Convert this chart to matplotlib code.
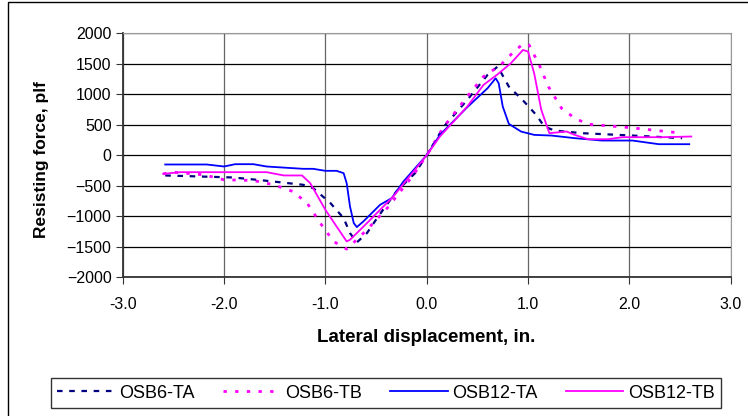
import matplotlib.pyplot as plt
from matplotlib.patches import Rectangle

plt.rcParams['font.family'] = ['Liberation Sans', 'DejaVu Sans']

# curves (displacement in., force plf)
ta6_x = [-2.58, -1.91, -1.61, -1.22, -1.12, -0.95, -0.82, -0.757, -0.69, -0.59, -0.49, -0.30, -0.115, 0.0,
         0.17, 0.40, 0.60, 0.70, 0.81, 0.96, 1.08, 1.16, 1.26, 1.53, 2.03, 2.52]
ta6_y = [-333, -366, -415, -486, -541, -787, -1033, -1279, -1432, -1279, -1033, -596, -295, 0,
         470, 907, 1317, 1454, 1126, 880, 661, 470, 404, 361, 322, 279]

tb6_x = [-2.6, -2.5, -2.2, -2.0, -1.71, -1.51, -1.32, -1.18, -1.05, -0.92, -0.79, -0.72, -0.59, -0.39, -0.13, 0.0,
         0.17, 0.40, 0.56, 0.73, 0.86, 0.95, 1.01, 1.11, 1.20, 1.33, 1.46, 1.59, 1.99, 2.52]
tb6_y = [-306, -279, -322, -404, -415, -486, -596, -787, -1115, -1415, -1541, -1432, -1224, -869, -322, 0,
         470, 962, 1290, 1481, 1699, 1825, 1809, 1481, 1126, 770, 607, 508, 454, 361]

ta12_x = [-2.58, -2.17, -2.0, -1.89, -1.71, -1.58, -1.22, -1.12, -1.0, -0.89, -0.82, -0.79, -0.757, -0.72, -0.69,
          -0.625, -0.46, -0.345, -0.23, -0.1, 0.0, 0.13, 0.40, 0.60, 0.68, 0.71, 0.75, 0.81, 0.93, 1.06, 1.23,
          1.46, 1.73, 2.03, 2.29, 2.59]
ta12_y = [-153, -153, -186, -148, -148, -186, -224, -224, -257, -257, -295, -459, -842, -1115, -1180,
          -1087, -814, -705, -432, -186, 0, 333, 787, 1098, 1262, 1180, 798, 514, 388, 333, 322,
          279, 240, 240, 180, 180]

tb12_x = [-2.6, -2.43, -1.58, -1.41, -1.23, -1.15, -1.0, -0.89, -0.79, -0.757, -0.69, -0.59, -0.46, -0.33, -0.13, 0.0,
          0.13, 0.40, 0.56, 0.70, 0.83, 0.95, 1.0, 1.06, 1.13, 1.21, 1.38, 1.46, 1.59, 1.79, 1.93, 2.32, 2.61]
tb12_y = [-306, -279, -279, -333, -333, -459, -896, -1169, -1415, -1388, -1279, -1115, -896, -678, -268, 0,
          306, 798, 1153, 1328, 1508, 1727, 1699, 1344, 743, 361, 388, 333, 262, 262, 295, 295, 306]

x_ticks = [-3.0, -2.0, -1.0, 0.0, 1.0, 2.0, 3.0]
y_ticks = [-2000, -1500, -1000, -500, 0, 500, 1000, 1500, 2000]

fig = plt.figure(figsize=(7.48, 4.16), dpi=100)
ax = fig.add_axes([0.164, 0.334, 0.813, 0.586])

ax.plot(ta6_x, ta6_y, color='#000080', lw=1.6, linestyle=(0, (2.5, 3)), label='OSB6-TA')
ax.plot(tb6_x, tb6_y, color='#FF00FF', lw=2.0, linestyle=(0, (1.2, 3)), label='OSB6-TB')
ax.plot(ta12_x, ta12_y, color='#0000FF', lw=1.3, label='OSB12-TA')
ax.plot(tb12_x, tb12_y, color='#FF00FF', lw=1.3, label='OSB12-TB')

ax.set_xlim(-3, 3)
ax.set_ylim(-2000, 2000)
ax.set_xticks(x_ticks)
ax.set_xticklabels(['%.1f' % v for v in x_ticks])
ax.set_yticks(y_ticks)
ax.tick_params(labelsize=11.5, direction='out', length=5, color='#333333')
ax.tick_params(axis='y', pad=3)
ax.tick_params(axis='x', pad=9)
ax.grid(axis='y', color='black', lw=0.9)
ax.grid(axis='x', color='#666666', lw=0.9)
ax.set_axisbelow(True)
for side in ['top', 'right']:
    ax.spines[side].set_color('#999999')
for side in ['left', 'bottom']:
    ax.spines[side].set_color('#333333')
    ax.spines[side].set_linewidth(1.3)

fig.text(426 / 748, 1 - 337 / 416, 'Lateral displacement, in.', fontsize=13.5, fontweight='bold',
         ha='center', va='center')
fig.text(42 / 748, 1 - 160 / 416, 'Resisting force, plf', fontsize=12.5, fontweight='bold',
         ha='center', va='center', rotation=90)

leg = fig.legend(loc='center', bbox_to_anchor=(51 / 748, 1 - 411 / 416, 670 / 748, 36 / 416),
                 mode='expand', ncol=4, fontsize=13, frameon=True, fancybox=False,
                 handlelength=3.2, handletextpad=0.25, borderpad=0.35, borderaxespad=0)
leg.get_frame().set_edgecolor('black')
leg.get_frame().set_linewidth(1.0)

fig.patches.append(Rectangle((8 / 748, -0.1), 1.1, 0.1 + 414 / 416, transform=fig.transFigure,
                             fill=False, edgecolor='black', lw=1.0))

fig.savefig('out.png', dpi=100)
